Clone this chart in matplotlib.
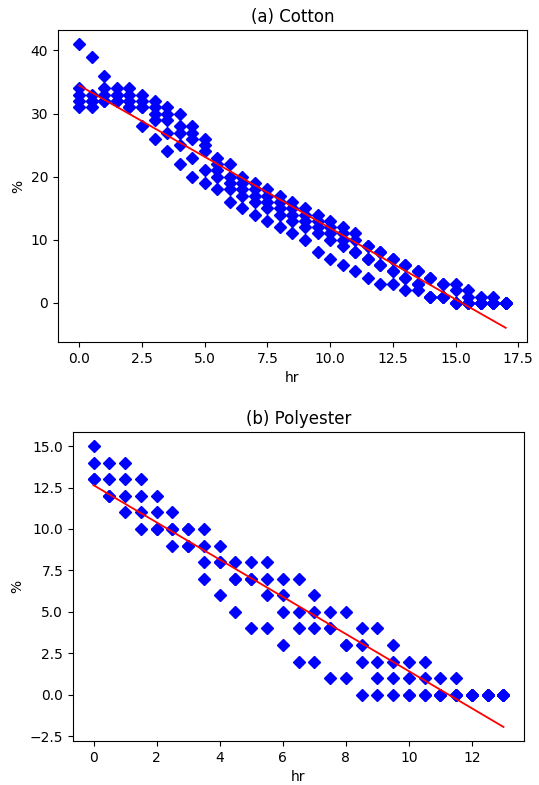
import numpy as np
import matplotlib
matplotlib.use('Agg')
import matplotlib.pyplot as plt

# (a) Cotton: five replicate readings at each half hour (overlapping ones repeat)
cotton_hr = [0, 0.5, 1, 1.5, 2, 2.5, 3, 3.5, 4, 4.5, 5, 5.5, 6, 6.5, 7, 7.5, 8, 8.5,
             9, 9.5, 10, 10.5, 11, 11.5, 12, 12.5, 13, 13.5, 14, 14.5, 15, 15.5, 16, 16.5, 17]
cotton_pct = [
    [41, 34, 33, 32, 31],
    [39, 33, 32, 32, 31],
    [36, 34, 33, 32, 32],
    [34, 33, 33, 32, 32],
    [34, 33, 32, 31, 31],
    [33, 32, 31, 31, 28],
    [32, 31, 30, 29, 26],
    [31, 30, 29, 27, 24],
    [30, 28, 27, 25, 22],
    [28, 27, 26, 23, 20],
    [26, 25, 24, 21, 19],
    [23, 22, 21, 20, 18],
    [22, 20, 19, 18, 16],
    [20, 19, 18, 17, 15],
    [19, 18, 17, 16, 14],
    [18, 17, 16, 15, 13],
    [17, 16, 15, 14, 12],
    [16, 15, 14, 13, 11],
    [15, 14, 13, 12, 10],
    [14, 13, 12, 11, 8],
    [13, 12, 11, 10, 7],
    [12, 11, 10, 9, 6],
    [11, 10, 8, 8, 5],
    [9, 9, 7, 7, 4],
    [8, 8, 6, 6, 3],
    [7, 7, 5, 5, 3],
    [6, 6, 4, 4, 2],
    [5, 5, 3, 3, 2],
    [4, 4, 1, 1, 1],
    [3, 3, 1, 1, 1],
    [3, 2, 0, 0, 0],
    [2, 1, 0, 0, 0],
    [1, 0, 0, 0, 0],
    [1, 0, 0, 0, 0],
    [0, 0, 0, 0, 0],
]

# (b) Polyester: four replicate readings at each half hour
poly_hr = [0, 0.5, 1, 1.5, 2, 2.5, 3, 3.5, 4, 4.5, 5, 5.5, 6, 6.5, 7, 7.5, 8, 8.5,
           9, 9.5, 10, 10.5, 11, 11.5, 12, 12.5, 13]
poly_pct = [
    [15, 14, 13, 13],
    [14, 13, 12, 12],
    [14, 13, 12, 11],
    [13, 12, 11, 10],
    [12, 11, 10, 10],
    [11, 10, 10, 9],
    [10, 10, 9, 9],
    [10, 9, 8, 7],
    [9, 8, 8, 6],
    [8, 7, 7, 5],
    [8, 7, 7, 4],
    [8, 7, 6, 4],
    [7, 6, 5, 3],
    [7, 5, 4, 2],
    [6, 5, 4, 2],
    [5, 4, 4, 1],
    [5, 3, 3, 1],
    [4, 3, 2, 0],
    [4, 2, 1, 0],
    [3, 2, 1, 0],
    [2, 1, 0, 0],
    [2, 1, 0, 0],
    [1, 0, 0, 0],
    [1, 0, 0, 0],
    [0, 0, 0, 0],
    [0, 0, 0, 0],
    [0, 0, 0, 0],
]


def flatten(hrs, vals):
    x, y = [], []
    for h, vs in zip(hrs, vals):
        for v in vs:
            x.append(h)
            y.append(v)
    return np.array(x, float), np.array(y, float)


fig = plt.figure(figsize=(5.39, 7.85), dpi=100)
W, H = 539, 785
boxes = [(58, 30, 527, 342), (73, 432, 524, 741)]
sets = [(cotton_hr, cotton_pct, '(a) Cotton'), (poly_hr, poly_pct, '(b) Polyester')]

for (l, t, r, b), (hrs, vals, title) in zip(boxes, sets):
    ax = fig.add_axes([l / W, 1 - b / H, (r - l) / W, (b - t) / H])
    x, y = flatten(hrs, vals)
    ax.plot(x, y, 'bD', markersize=6.5)
    k, c = np.polyfit(x, y, 1)
    xs = np.array([min(hrs), max(hrs)])
    ax.plot(xs, k * xs + c, 'r-', linewidth=1.3)
    ax.set_title(title)
    ax.set_xlabel('hr')
    ax.set_ylabel('%')

plt.savefig('out.png', dpi=100)
